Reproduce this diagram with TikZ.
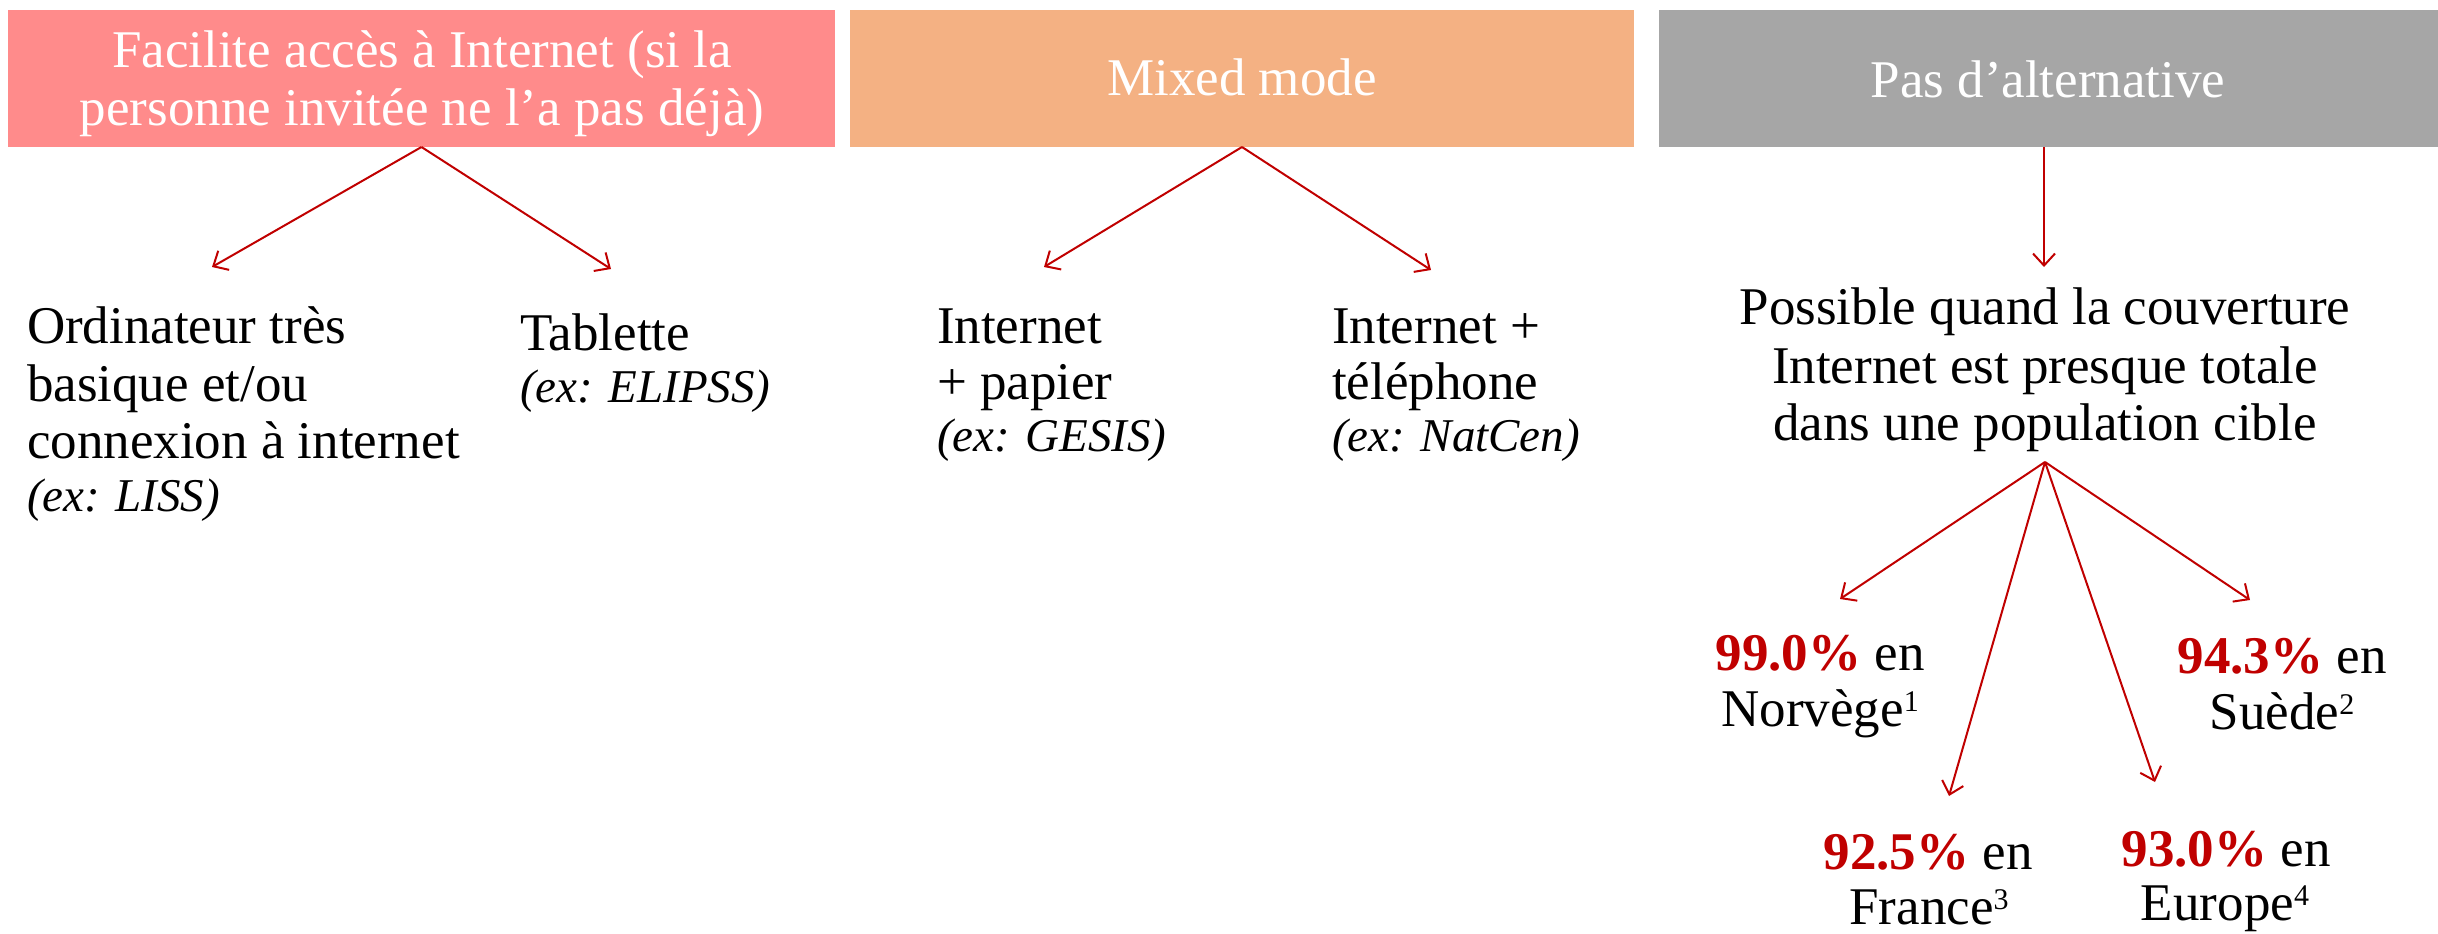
\documentclass[tikz,border=0pt]{standalone}
\usepackage{fontspec}
\setmainfont{Liberation Serif}
\usetikzlibrary{arrows.meta}
\definecolor{boxpink}{HTML}{FF8B8B}
\definecolor{boxorange}{HTML}{F4B183}
\definecolor{boxgray}{HTML}{A6A6A6}
\definecolor{accent}{HTML}{C00000}
% small raised note number
\newcommand{\noteno}[1]{\raisebox{7.5pt}{\fontsize{15}{15}\selectfont #1}}

\begin{document}
\begin{tikzpicture}[x=0.5pt,y=-0.5pt,
  every node/.style={inner sep=0pt,outer sep=0pt},
  txt/.style={font=\fontsize{26.5}{28.5}\selectfont, anchor=base west},
  ctxt/.style={font=\fontsize{26.5}{28.5}\selectfont, anchor=base},
  ex/.style={font=\fontsize{23.5}{26}\selectfont\itshape, anchor=base west},
  head/.style={font=\fontsize{26.5}{28.5}\selectfont, text=white, anchor=base},
  hbox/.style={minimum height=68.5pt},
  link/.style={draw=accent, line width=1pt, -{Straight Barb[length=6pt,width=11pt]}},
]
\useasboundingbox (0,0) rectangle (2438,933);

% header boxes
\node (hb1) [hbox, fill=boxpink, minimum width=413.5pt] at (421.5,78.5) {};
\node (hb2) [hbox, fill=boxorange, minimum width=392pt] at (1242,78.5) {};
\node (hb3) [hbox, fill=boxgray, minimum width=389.5pt] at (2048.5,78.5) {};

\node (h1a) [head] at (422,67) {Facilite accès à Internet (si la};
\node (h1b) [head] at (422,125) {personne invitée ne l’a pas déjà)};
\node (h2) [head] at (1242,95) {Mixed mode};
\node (h3) [head] at (2048,97) {Pas d’alternative};

% first column
\node (o1) [txt] at (27,343) {Ordinateur très};
\node (o2) [txt] at (27,401) {basique et/ou};
\node (o3) [txt] at (27,458) {connexion à internet};
\node (o4) [ex]  at (27,511) {(ex: LISS)};
\node (t1) [txt] at (520,350) {Tablette};
\node (t2) [ex]  at (520,402) {(ex: ELIPSS)};

% second column
\node (p1) [txt] at (937,343) {Internet};
\node (p2) [txt] at (937,399) {+ papier};
\node (p3) [ex]  at (937,451) {(ex: GESIS)};
\node (q1) [txt] at (1332,343) {Internet +};
\node (q2) [txt] at (1332,399) {téléphone};
\node (q3) [ex]  at (1332,451) {(ex: NatCen)};

% third column
\node (c1) [ctxt] at (2045,324) {Possible quand la couverture};
\node (c2) [ctxt] at (2045,383) {Internet est presque totale};
\node (c3) [ctxt] at (2045,440) {dans une population cible};

\node (no1) [ctxt] at (1820,670) {\textbf{\color{accent}99.0\%} en};
\node (no2) [ctxt] at (1820,726) {Norvège\noteno{1}};
\node (se1) [ctxt] at (2282,673) {\textbf{\color{accent}94.3\%} en};
\node (se2) [ctxt] at (2282,729) {Suède\noteno{2}};
\node (fr1) [ctxt] at (1928,869) {\textbf{\color{accent}92.5\%} en};
\node (fr2) [ctxt] at (1929,924) {France\noteno{3}};
\node (eu1) [ctxt] at (2226,866) {\textbf{\color{accent}93.0\%} en};
\node (eu2) [ctxt] at (2225,920) {Europe\noteno{4}};

% arrow ends
\coordinate (a1l) at (212,267);
\coordinate (a1r) at (611,269);
\coordinate (a2l) at (1044,267);
\coordinate (a2r) at (1431,270);
\coordinate (a3)  at (2044,267);
\coordinate (fan) at (2045,462);
\coordinate (fno) at (1840,599);
\coordinate (fse) at (2250,600);
\coordinate (ffr) at (1949,796);
\coordinate (feu) at (2155,782);

\draw[link] (hb1.south) -- (a1l);
\draw[link] (hb1.south) -- (a1r);
\draw[link] (hb2.south) -- (a2l);
\draw[link] (hb2.south) -- (a2r);
\draw[link] (hb3.south -| a3) -- (a3);
\draw[link] (fan) -- (fno);
\draw[link] (fan) -- (fse);
\draw[link] (fan) -- (ffr);
\draw[link] (fan) -- (feu);
\end{tikzpicture}
\end{document}
